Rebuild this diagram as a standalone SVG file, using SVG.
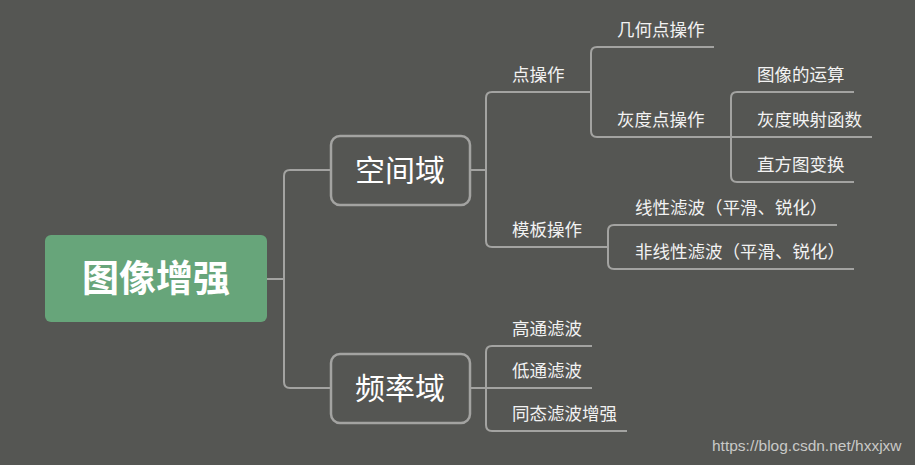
<svg xmlns="http://www.w3.org/2000/svg" width="915" height="465" viewBox="0 0 915 465">
<style>
.bg{fill:#555653}
.ln{fill:none;stroke:#a3a3a1;stroke-width:2}
.box{fill:#555653;stroke:#a3a3a1;stroke-width:2.5}
.lbl{font-family:"Noto Sans CJK SC","Microsoft YaHei",sans-serif;font-size:17.5px;fill:#f2f2f2}
.big{font-family:"Noto Sans CJK SC",sans-serif;font-size:30px;fill:#ffffff;text-anchor:middle}
.root{font-family:"Noto Sans CJK SC",sans-serif;font-size:37px;font-weight:bold;fill:#ffffff;text-anchor:middle}
.wm{font-family:"Liberation Sans",Arial,sans-serif;font-size:15.5px;fill:#c9c9c7}
</style>
<rect class="bg" x="0" y="0" width="915" height="465"/>
<g id="connectors">
<path class="ln" d="M267,279 H284 M284,279 V176 Q284,170 290,170 H331 M284,279 V382 Q284,388 290,388 H331"/>
<path class="ln" d="M470,170 H486 M486,170 V98 Q486,92 492,92 H591 M486,170 V241 Q486,247 492,247 H608"/>
<path class="ln" d="M591,92 V53 Q591,47 597,47 H714 M591,92 V131 Q591,137 597,137 H731"/>
<path class="ln" d="M731,137 H872 M731,137 V98 Q731,92 737,92 H854 M731,137 V176 Q731,182 737,182 H854"/>
<path class="ln" d="M608,247 V231 Q608,225 614,225 H837 M608,247 V263 Q608,269 614,269 H854"/>
<path class="ln" d="M470,388 H592 M486,388 V352 Q486,346 492,346 H592 M486,388 V425 Q486,431 492,431 H627"/>
</g>
<g id="root">
<rect x="45" y="235" width="222" height="87" rx="6" fill="#67a57a"/>
<text class="root" x="156" y="292">图像增强</text>
</g>
<g id="spatial">
<rect class="box" x="331" y="136" width="139" height="69" rx="9"/>
<text class="big" x="400" y="181">空间域</text>
</g>
<g id="freq">
<rect class="box" x="331" y="354" width="139" height="69" rx="9"/>
<text class="big" x="400" y="399">频率域</text>
</g>
<g id="n-point"><text class="lbl" x="512" y="81">点操作</text></g>
<g id="n-template"><text class="lbl" x="512" y="236">模板操作</text></g>
<g id="n-geo"><text class="lbl" x="617" y="36">几何点操作</text></g>
<g id="n-gray"><text class="lbl" x="617" y="126">灰度点操作</text></g>
<g id="n-arith"><text class="lbl" x="757" y="81">图像的运算</text></g>
<g id="n-map"><text class="lbl" x="757" y="126">灰度映射函数</text></g>
<g id="n-hist"><text class="lbl" x="757" y="171">直方图变换</text></g>
<g id="n-linear"><text class="lbl" x="635" y="214">线性滤波（平滑、锐化）</text></g>
<g id="n-nonlinear"><text class="lbl" x="635" y="258">非线性滤波（平滑、锐化）</text></g>
<g id="n-high"><text class="lbl" x="512" y="335">高通滤波</text></g>
<g id="n-low"><text class="lbl" x="512" y="377">低通滤波</text></g>
<g id="n-homo"><text class="lbl" x="512" y="420">同态滤波增强</text></g>
<text class="wm" x="712" y="451">https://blog.csdn.net/hxxjxw</text>
</svg>
